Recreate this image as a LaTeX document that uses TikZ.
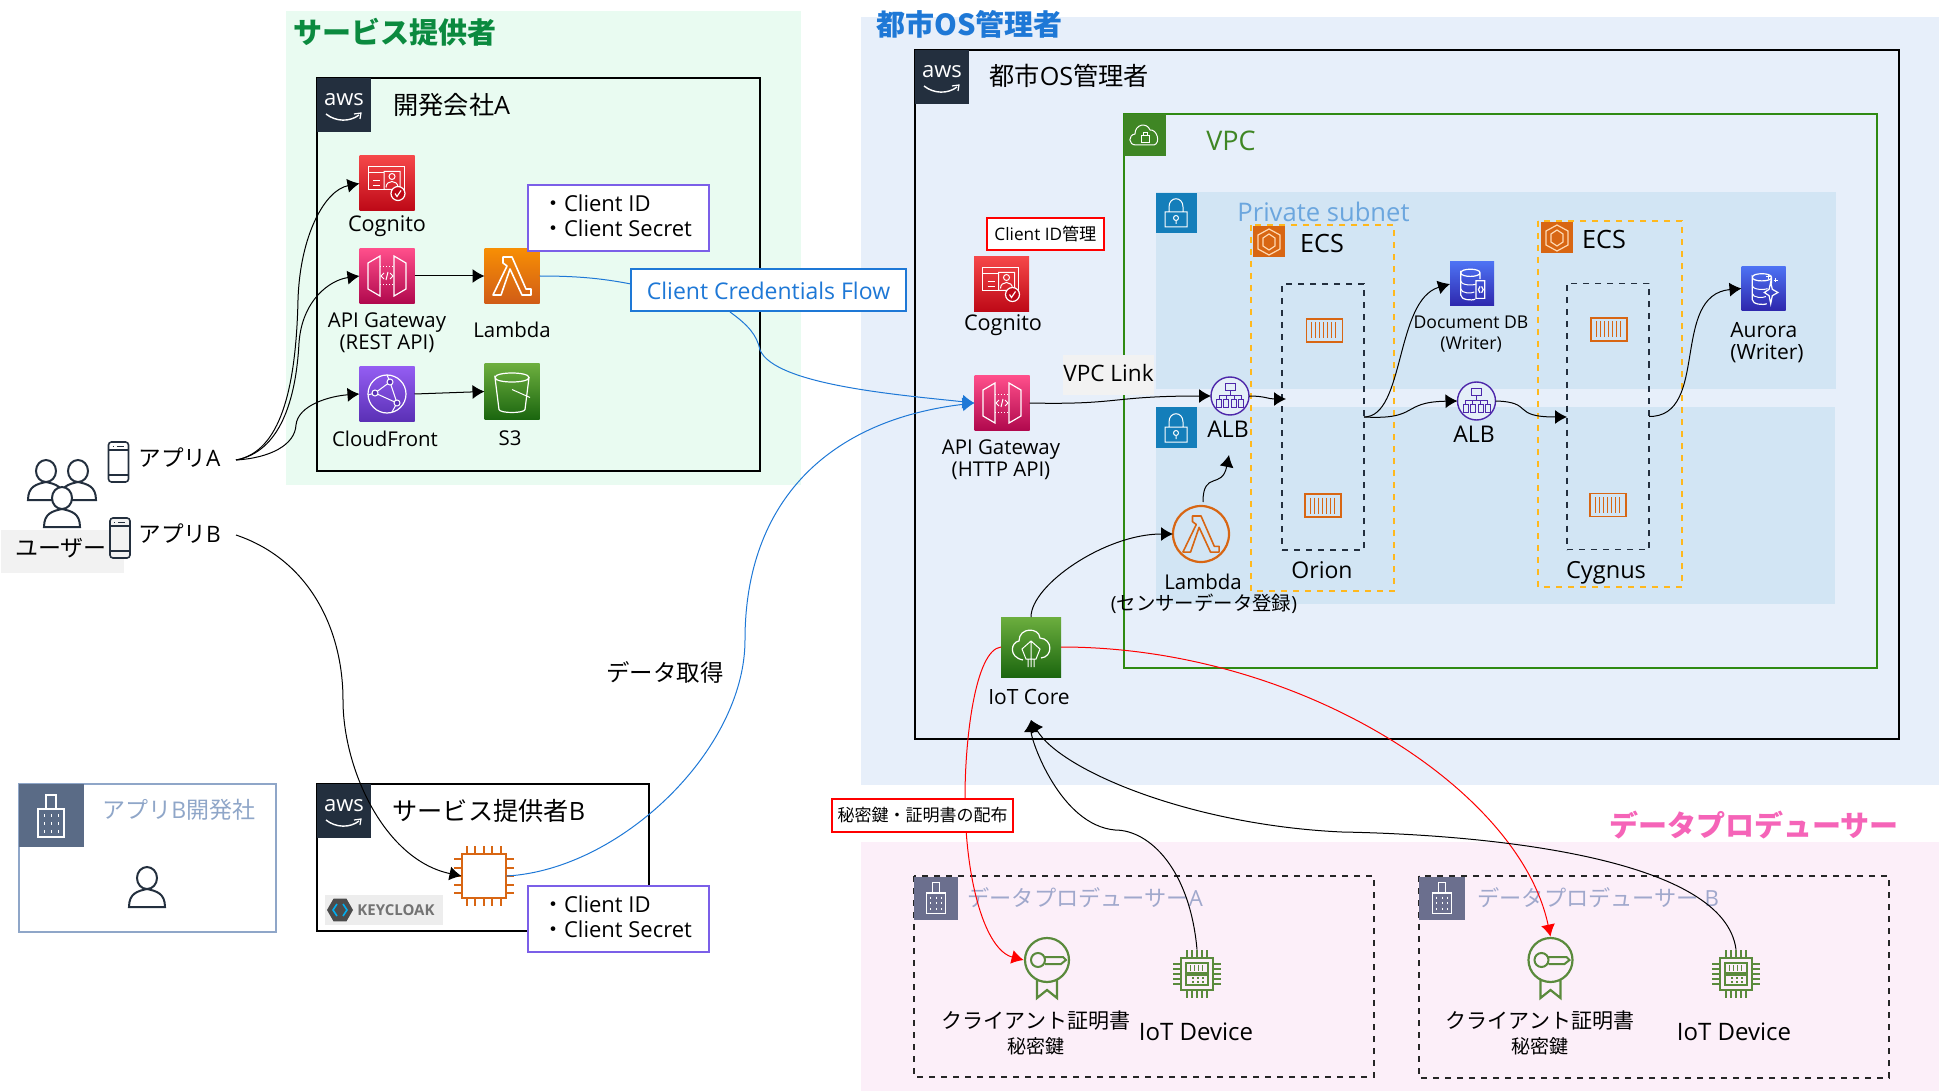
\documentclass[tikz,border=0pt]{standalone}
\usepackage{fontspec}
\setmainfont{Open Sans}
\newfontfamily\cjk{Noto Sans CJK JP}
\usetikzlibrary{arrows.meta,shapes.geometric}
\definecolor{awsdark}{HTML}{232F3E}
\definecolor{svcbg}{HTML}{E9FBF1}
\definecolor{svcgreen}{HTML}{0B8A3F}
\definecolor{citybg}{HTML}{E7EFFA}
\definecolor{cityblue}{HTML}{1E78D6}
\definecolor{vpcgreen}{HTML}{3F8624}
\definecolor{vpcline}{HTML}{2F8A12}
\definecolor{subnetbg}{HTML}{D2E5F4}
\definecolor{subnetblue}{HTML}{147EBA}
\definecolor{subnettext}{HTML}{6BA6DE}
\definecolor{ecsyellow}{HTML}{FFB81C}
\definecolor{ecsorange}{HTML}{D86613}
\definecolor{albpurple}{HTML}{4D27AA}
\definecolor{pinkbg}{HTML}{FCEFF9}
\definecolor{pinktext}{HTML}{F564B8}
\definecolor{corpslate}{HTML}{5A6B86}
\definecolor{corptext}{HTML}{8FA6C8}
\definecolor{prodslate}{HTML}{6B6F8E}
\definecolor{prodtext}{HTML}{A0A8CC}
\definecolor{clientpurple}{HTML}{7B5FE8}
\definecolor{certgreen}{HTML}{5A8A3C}
\definecolor{softgray}{HTML}{F2F2F2}
\definecolor{redtop}{HTML}{F54749}
\definecolor{redlow}{HTML}{BD0816}
\definecolor{pinktop}{HTML}{FF4F8B}
\definecolor{pinklow}{HTML}{B0084D}
\definecolor{orangetop}{HTML}{F78E04}
\definecolor{orangelow}{HTML}{D05C17}
\definecolor{purpletop}{HTML}{945DF2}
\definecolor{purplelow}{HTML}{5A30B5}
\definecolor{greentop}{HTML}{6CAE3E}
\definecolor{greenlow}{HTML}{1B660F}
\definecolor{bluetop}{HTML}{4D72F3}
\definecolor{bluelow}{HTML}{2E27AD}
\tikzset{
  >={Latex[length=6pt,width=7pt]},
  lbl/.style={font=\fontsize{10.2}{11.2}\selectfont,align=center,inner sep=0},
  lblbig/.style={font=\fontsize{12.6}{14}\selectfont,align=center,inner sep=0},
  lblmid/.style={font=\fontsize{11.5}{13}\selectfont,align=center,inner sep=0},
  title/.style={font=\fontsize{14.5}{16}\selectfont\bfseries,inner sep=0},
  conn/.style={->,line width=.5pt,black},
  bluecurve/.style={line width=.5pt,cityblue},
  redcurve/.style={->,line width=.5pt,red},
  iconbox/.style={minimum width=27.5pt,minimum height=27.5pt,inner sep=0,outer sep=0},
  redicon/.style={iconbox,top color=redtop,bottom color=redlow},
  pinkicon/.style={iconbox,top color=pinktop,bottom color=pinklow},
  orangeicon/.style={iconbox,top color=orangetop,bottom color=orangelow},
  purpleicon/.style={iconbox,top color=purpletop,bottom color=purplelow},
  greenicon/.style={iconbox,top color=greentop,bottom color=greenlow},
  blueicon/.style={iconbox,minimum width=22pt,minimum height=22pt,top color=bluetop,bottom color=bluelow},
  tagbox/.style={anchor=north west,inner sep=0,outer sep=0},
  infobox/.style={draw=clientpurple,line width=1pt,fill=white,minimum width=90.5pt,minimum height=33pt,inner sep=0},
  redbox/.style={draw=red,line width=1pt,fill=white,inner sep=0},
  albnode/.style={circle,draw=albpurple,line width=.7pt,fill=white!40!subnetbg,minimum size=19pt,inner sep=0,outer sep=0},
  innerdash/.style={draw=awsdark,dashed,line width=.8pt,minimum width=41pt,minimum height=133pt,inner sep=0,outer sep=0},
  ecsdash/.style={draw=ecsyellow,dashed,line width=1pt},
  proddash/.style={draw=black!85,dashed,line width=.9pt},
  smile/.pic={
    \draw[white,line width=.7pt] (-18,9) .. controls (-8,17) and (6,17) .. (15,10);
    \draw[white,line width=.6pt] (10,9) -- (17,8) -- (16,14);
  },
  cogglyph/.pic={
    \draw[white,line width=.5pt] (-19,-17) rectangle (17,6) (-19,-11) -- (-3,-11) (-14,-3) -- (-7,-3) (-14,2) -- (-7,2);
    \draw[white,line width=.5pt] (-3,-12) rectangle (13,6) (5,-7) circle [radius=3] (-1,4) .. controls (-1,-4) and (11,-4) .. (11,4);
    \draw[white,line width=.6pt,fill=redlow] (11,10) circle [radius=7];
    \draw[white,line width=.6pt] (8,10) -- (10,13) -- (14,7);
  },
  apiglyph/.pic={
    \draw[white,line width=.6pt] (-19,-13) -- (-7,-20) -- (-7,20) -- (-19,13) -- cycle (19,-13) -- (7,-20) -- (7,20) -- (19,13) -- cycle;
    \draw[white,line width=.5pt,densely dotted] (-7,-9) -- (7,-9) (-7,9) -- (7,9);
    \draw[white,line width=.5pt] (-3,-3) -- (-6,0) -- (-3,3) (3,-3) -- (6,0) -- (3,3) (1,-4) -- (-1,4);
  },
  lambdaglyph/.pic={
    \draw[#1,line width=.8pt,line join=round] (-9,-19) -- (0,-19) -- (14,13) -- (19,13) -- (19,19) -- (10,19) -- (-2,-7) -- (-11,19) -- (-19,19) -- (-5,-10) -- (-9,-13) -- cycle;
  },
  cfglyph/.pic={
    \draw[white,line width=.6pt] (0,0) circle [radius=19];
    \draw[white,line width=.5pt] (-12,-1) -- (3,-12) -- (10,9) -- (-12,-1) (0,-19) -- (3,-12) (10,9) -- (5,18) (-12,-1) -- (-19,1);
    \foreach \cx/\cy in {-12/-1,3/-12,10/9} \draw[white,line width=.5pt,fill=purplelow] (\cx,\cy) circle [radius=3];
  },
  sthreeglyph/.pic={
    \draw[white,line width=.6pt] (-17,-14) .. controls (-17,-20) and (17,-20) .. (17,-14) .. controls (17,-8) and (-17,-8) .. (-17,-14) -- (-13,18) .. controls (-12,22) and (12,22) .. (13,18) -- (17,-14);
    \draw[white,line width=.5pt] (0,-2) -- (18,6);
  },
  dbglyph/.pic={
    \draw[white,line width=.6pt] (-14,-14) .. controls (-14,-20) and (10,-20) .. (10,-14) .. controls (10,-8) and (-14,-8) .. (-14,-14) -- (-14,14) .. controls (-14,20) and (0,21) .. (4,19) (10,-14) -- (10,-6);
    \draw[white,line width=.5pt] (-14,-4) .. controls (-14,2) and (2,2) .. (5,0) (-14,6) .. controls (-14,12) and (0,12) .. (3,10);
  },
  docsmall/.pic={\draw[white,line width=.6pt] (5,-4) rectangle (16,18) (10,3) -- (8,7) -- (10,11) (12,3) -- (14,7) -- (12,11);},
  sparksmall/.pic={
    \draw[white,line width=.6pt] (9,-8) -- (11,1) -- (18,5) -- (11,9) -- (9,19) -- (7,9) -- (1,5) -- (7,1) -- cycle;
    \draw[white,line width=.5pt] (6,-18) -- (6,-12) (3,-15) -- (9,-15) (15,-13) -- (15,-8) (12.5,-10.5) -- (17.5,-10.5);
  },
  albglyph/.pic={
    \draw[albpurple,line width=.5pt] (-5,-13) rectangle (5,-6) (0,-6) -- (0,-1) (-11,3) -- (-11,-1) -- (11,-1) -- (11,3) (-4,-1) -- (-4,3) (4,-1) -- (4,3);
    \foreach \cx in {-11,-4,4,11} \draw[albpurple,line width=.5pt] (\cx-2.5,3) rectangle (\cx+2.5,11);
  },
  lockglyph/.pic={
    \draw[white,line width=.5pt] (-11,-1) rectangle (11,14) (-7,-1) -- (-7,-6) .. controls (-7,-17) and (7,-17) .. (7,-6) -- (7,-1) (0,5) circle [radius=2.5] (0,8) -- (0,11);
  },
  cloudglyph/.pic={
    \draw[white,line width=.5pt] (-9,10) .. controls (-17,10) and (-17,0) .. (-10,-1) .. controls (-10,-11) and (2,-13) .. (5,-5) .. controls (12,-6) and (16,8) .. (9,10) -- cycle;
    \draw[white,line width=.5pt] (-4,1) rectangle (4,8) (-2,1) -- (-2,-2) -- (2,-2) -- (2,1);
  },
  ecsglyph/.pic={
    \draw[orange!30,line width=.6pt] (0,-13) -- (11,-7) -- (11,7) -- (0,13) -- (-11,7) -- (-11,-7) -- cycle (0,-8) -- (6,-4) -- (6,4) -- (0,8) -- (-6,4) -- (-6,-4) -- cycle;
  },
  boxstripes/.pic={
    \draw[ecsorange,line width=.7pt] (-18,-11.5) rectangle (18,11.5);
    \foreach \cx in {-13,-9,...,13} \draw[ecsorange,line width=.4pt] (\cx,-8) -- (\cx,8);
  },
  buildingglyph/.pic={
    \draw[white,line width=.6pt] (-13,21) rectangle (13,-7) (-5,-7) -- (-5,-21) -- (5,-21) -- (5,-7);
    \foreach \cx in {-7,0,7} \foreach \cy in {-2,6,14} \draw[white,line width=.5pt] (\cx,\cy) -- ++(0,3);
  },
  phoneglyph/.pic={
    \draw[awsdark,line width=.8pt,rounded corners=1.5pt,fill=#1] (-10,-20) rectangle (10,20) (-10,-12) -- (10,-12) (-10,13) -- (10,13);
    \draw[awsdark,line width=.5pt] (-6,-16) -- (-5,-16) (-2,-16) -- (5,-16);
  },
  personglyph/.pic={
    \draw[awsdark,line width=1pt,fill=#1] (-18,20) .. controls (-18,6) and (-9,4) .. (0,2) .. controls (9,4) and (18,6) .. (18,20) -- cycle;
    \draw[awsdark,line width=1pt,fill=#1] (0,-9) ellipse [x radius=10,y radius=11];
  },
  chipglyph/.pic={
    \draw[ecsorange,line width=1pt,fill=white] (-22,-22) rectangle (22,22);
    \foreach \cx in {-17,-8.5,0,8.5,17} {
      \draw[ecsorange,line width=1pt] (\cx,-22) -- (\cx,-30) (\cx,22) -- (\cx,30) (-22,\cx) -- (-30,\cx) (22,\cx) -- (30,\cx);
    }
  },
  devglyph/.pic={
    \draw[certgreen,line width=.8pt] (-16,-16) rectangle (16,16);
    \draw[certgreen,line width=.6pt] (-11,-11) rectangle (11,-1) (-11,1) rectangle (11,11);
    \foreach \cx in {-10,-5,0,5,10} {
      \draw[certgreen,line width=.8pt] (\cx,-16) -- (\cx,-24) (\cx,16) -- (\cx,24) (-16,\cx) -- (-24,\cx) (16,\cx) -- (24,\cx);
    }
    \foreach \cx in {-7,-3,1,5} \draw[certgreen,line width=.4pt] (\cx,-9) -- (\cx,-3);
    \foreach \cx in {-5,0,5} \draw[certgreen,line width=.8pt] (\cx,4) -- ++(1.5,0) (\cx,8) -- ++(1.5,0);
  },
  certglyph/.pic={
    \draw[certgreen,line width=1.1pt] (0,0) circle [radius=22] (-10,20) -- (-10,38) -- (0,30) -- (10,38) -- (10,20);
    \draw[certgreen,line width=1pt] (-9,0) circle [radius=7] (-2,-3) -- (16,-3) -- (19,0) -- (14,4) -- (-2,4);
  },
  iotglyph/.pic={
    \draw[white,line width=.6pt] (-8,13) .. controls (-23,10) and (-20,-5) .. (-12,-6) .. controls (-12,-20) and (8,-20) .. (9,-9) .. controls (22,-8) and (22,10) .. (10,11);
    \draw[white,line width=.5pt] (0,-6) -- (9,2) -- (5,12) -- (-5,12) -- (-9,2) -- cycle (-3,12) -- (-3,20) (0,-6) -- (0,20) (3,12) -- (3,20);
  }
}
\begin{document}
\begin{tikzpicture}[x=.5pt,y=-.5pt,line cap=butt]
\useasboundingbox (0,0) rectangle (1939,1091);
\fill[svcbg] (286,11) rectangle (801,485);
\fill[citybg] (861,17) rectangle (1939,785);
\fill[pinkbg] (861,842) rectangle (1939,1091);
\fill[softgray] (1,530) rectangle (124,573);

\node[title,text=svcgreen,anchor=west] (titlesvc) at (293,32) {\cjk サービス提供者};
\node[title,text=cityblue,anchor=west] (titlecity) at (876,24) {\cjk 都市OS管理者};
\node[title,text=pinktext,anchor=east] (titleprod) at (1899,825) {\cjk データプロデューサー};

\draw[black,line width=1pt] (317,78) rectangle (760,471);
\draw[black,line width=1pt] (915,50) rectangle (1899,739);
\draw[black,line width=1pt] (317,784) rectangle (649,931);
\foreach \tagx/\tagy/\tagn in {317/78/dev,915/50/city,317/784/svcb} {
  \node[tagbox,fill=awsdark,minimum width=27pt,minimum height=27pt] (tag\tagn) at (\tagx,\tagy) {};
  \node[font=\fontsize{11}{11}\selectfont,text=white,inner sep=0] (aws\tagn) at (\tagx+27,\tagy+22) {aws};
  \pic at (\tagx+27,\tagy+27) {smile};
}
\node[lblbig,anchor=west] (lbldev) at (393,105) {{\cjk 開発会社}A};
\node[lblbig,anchor=west] (lblcity) at (989,76) {{\cjk 都市}OS{\cjk 管理者}};
\node[lblbig,anchor=west] (lblsvcb) at (392,811) {{\cjk サービス提供者}B};

\draw[vpcline,line width=1pt] (1124,114) rectangle (1877,668);
\node[tagbox,fill=vpcgreen,minimum width=21pt,minimum height=21pt] (tagvpc) at (1124,114) {};
\pic at (1145,135) {cloudglyph};
\node[lblbig,font=\fontsize{13.5}{15}\selectfont,text=vpcgreen,anchor=west] (lblvpc) at (1206,141) {VPC};

\fill[subnetbg] (1156,192) rectangle (1836,389);
\fill[subnetbg] (1156,407) rectangle (1835,604);
\node[tagbox,fill=subnetblue,minimum width=20.5pt,minimum height=20pt] (tagsubnetu) at (1156,193) {};
\pic at (1176,213) {lockglyph};
\node[tagbox,fill=subnetblue,minimum width=20.5pt,minimum height=20.5pt] (tagsubnetl) at (1156,407) {};
\pic at (1176,428) {lockglyph};
\node[lblbig,font=\fontsize{12.8}{15}\selectfont,text=subnettext,anchor=west] (lblsubnet) at (1237,212) {Private subnet};

\draw[ecsdash] (1251,225) rectangle (1394,591);
\draw[ecsdash] (1538,221) rectangle (1682,587);
\node[tagbox,fill=ecsorange,minimum width=16pt,minimum height=15.5pt] (tagecsa) at (1253,226) {};
\pic at (1269,242) {ecsglyph};
\node[tagbox,fill=ecsorange,minimum width=16pt,minimum height=15.5pt] (tagecsb) at (1541,222) {};
\pic at (1557,238) {ecsglyph};
\node[lblbig] (lblecsa) at (1322,244) {ECS};
\node[lblbig] (lblecsb) at (1604,240) {ECS};
\node[innerdash] (orion) at (1323,417) {};
\node[innerdash] (cygnus) at (1608,416.5) {};
\pic at (1324.5,330.5) {boxstripes};
\pic at (1323,505.5) {boxstripes};
\pic at (1609,329.5) {boxstripes};
\pic at (1608,505) {boxstripes};
\node[lblmid] (lblorion) at (1322,570) {Orion};
\node[lblmid,font=\fontsize{11.8}{13}\selectfont] (lblcygnus) at (1606,573) {Cygnus};

\node[redicon] (cogdev) at (387,183.5) {};
\pic at (387,183.5) {cogglyph};
\node[lbl,font=\fontsize{10.8}{12}\selectfont] (lblcogdev) at (387,226) {Cognito};
\node[pinkicon] (apirest) at (387,276) {};
\pic at (387,276) {apiglyph};
\node[lbl] (lblapirest) at (387,333) {API Gateway\\(REST API)};
\node[orangeicon] (lamdev) at (512,276) {};
\pic at (512,276) {lambdaglyph=white};
\node[lbl] (lbllamdev) at (512,330) {Lambda};
\node[purpleicon] (cfdev) at (387,394) {};
\pic at (387,394) {cfglyph};
\node[lbl] (lblcfdev) at (385,439) {CloudFront};
\node[greenicon] (sthree) at (512,391.5) {};
\pic at (512,391.5) {sthreeglyph};
\node[lbl] (lblsthree) at (510,438) {S3};

\pic at (46,480) {personglyph=white};
\pic at (78,480) {personglyph=white};
\pic at (62,507) {personglyph=white};
\node[lblmid,font=\fontsize{11.5}{14}\selectfont\cjk] (lbluser) at (61,548) {ユーザー};
\pic at (118.5,462) {phoneglyph=white};
\pic at (120,538) {phoneglyph=softgray};
\node[lblmid,anchor=west,font=\fontsize{11.3}{13}\selectfont] (lblappa) at (138,458) {{\cjk アプリ}A};
\node[lblmid,anchor=west,font=\fontsize{11.3}{13}\selectfont] (lblappb) at (138,534) {{\cjk アプリ}B};
\coordinate (appaout) at (236,460);
\coordinate (appbout) at (236,535);

\draw[corptext,line width=1pt] (19,784) rectangle (276,932);
\node[tagbox,fill=corpslate,minimum width=32.5pt,minimum height=31.5pt] (tagcorp) at (19,784) {};
\pic at (51,816) {buildingglyph};
\node[lblmid,text=corptext,anchor=west] (lblcorp) at (102,810) {{\cjk アプリ}B{\cjk 開発社}};
\pic at (147,887) {personglyph=none};

\node[fill=black!7,minimum width=59pt,minimum height=15pt,inner sep=0] (kcback) at (384,910) {};
\node[regular polygon,regular polygon sides=6,fill=black!70,minimum size=13pt,inner sep=0] (kchex) at (340,910) {};
\draw[cyan,line width=.8pt] (337,904) -- (333,910) -- (337,916) (343,904) -- (347,910) -- (343,916);
\node[font=\fontsize{7.5}{9}\selectfont\bfseries,text=black!55,inner sep=0] (lblkc) at (396,910) {KEYCLOAK};
\node[minimum size=22pt,inner sep=0,outer sep=0] (ecbox) at (483.5,876) {};
\pic at (483.5,876) {chipglyph};

\node[lblmid,font=\fontsize{11.7}{13}\selectfont\cjk] (lbldata) at (665,672) {データ取得};

\node[redicon] (cogcity) at (1001.5,284.5) {};
\pic at (1001.5,284.5) {cogglyph};
\node[lbl,font=\fontsize{10.8}{12}\selectfont] (lblcogcity) at (1003,325) {Cognito};
\node[pinkicon] (apihttp) at (1002,403) {};
\pic at (1002,403) {apiglyph};
\node[lbl] (lblapihttp) at (1001,459.5) {API Gateway\\(HTTP API)};
\node[fill=softgray,minimum width=45.5pt,minimum height=20pt,inner sep=0] (vpclinkbg) at (1108.5,375) {};
\node[lblmid,font=\fontsize{11.3}{13}\selectfont] (lblvpclink) at (1108.5,373) {VPC Link};

\node[albnode] (alba) at (1230,396) {};
\pic at (1230,396) {albglyph};
\node[lblmid] (lblalba) at (1228,429) {ALB};
\node[albnode] (albb) at (1476.5,401) {};
\pic at (1476.5,401) {albglyph};
\node[lblmid] (lblalbb) at (1474,434) {ALB};
\node[blueicon] (docdb) at (1472,284) {};
\pic[scale=.8] at (1472,284) {dbglyph};
\pic[scale=.8] at (1472,284) {docsmall};
\node[lbl,font=\fontsize{8.8}{10.5}\selectfont] (lbldocdb) at (1471,334.5) {Document DB\\(Writer)};
\node[blueicon] (aurora) at (1763.5,288.5) {};
\pic[scale=.8] at (1763.5,288.5) {dbglyph};
\pic[scale=.8] at (1763.5,288.5) {sparksmall};
\node[lbl,font=\fontsize{10.5}{11}\selectfont,align=left] (lblaurora) at (1767,343) {Aurora\\(Writer)};
\node[circle,draw=ecsorange,line width=1.1pt,minimum size=28pt,inner sep=0,outer sep=0] (lamsensor) at (1201,534) {};
\pic[scale=.95] at (1201,534) {lambdaglyph=ecsorange};
\node[lbl] (lbllamsensor) at (1203,582) {Lambda};
\node[lbl,font=\fontsize{9.7}{11}\selectfont] (lblsensor) at (1204,604) {({\cjk センサーデータ登録})};
\coordinate (lamout) at (1229,455);

\node[greenicon,minimum width=30pt,minimum height=30pt] (iotcore) at (1031,647) {};
\pic at (1031,647) {iotglyph};
\node[lbl,font=\fontsize{10.5}{12}\selectfont] (lbliotcore) at (1029,697) {IoT Core};
\coordinate (iotin) at (1031,720);

\draw[proddash] (914,876) rectangle (1374,1077);
\draw[proddash] (1419,876) rectangle (1889,1078);
\node[tagbox,fill=prodslate,minimum width=22pt,minimum height=21.5pt] (tagproda) at (914,877) {};
\pic[scale=.72] at (936,898) {buildingglyph};
\node[tagbox,fill=prodslate,minimum width=23pt,minimum height=21.5pt] (tagprodb) at (1419,877) {};
\pic[scale=.72] at (1442,898) {buildingglyph};
\node[lblmid,text=prodtext,anchor=west,font=\fontsize{11.1}{13}\selectfont] (lblproda) at (967,898) {{\cjk データプロデューサー}A};
\node[lblmid,text=prodtext,anchor=west,font=\fontsize{11.1}{13}\selectfont] (lblprodb) at (1477,898) {{\cjk データプロデューサー} B};

\node[inner sep=0,minimum size=23pt] (certa) at (1047,960) {};
\pic at (1047,960) {certglyph};
\node[inner sep=0,minimum size=23pt] (certb) at (1550.5,960) {};
\pic at (1550.5,960) {certglyph};
\node[inner sep=0,minimum width=24pt,minimum height=24pt] (deva) at (1197,974) {};
\pic at (1197,974) {devglyph};
\node[inner sep=0,minimum width=24pt,minimum height=24pt] (devb) at (1736,974) {};
\pic at (1736,974) {devglyph};
\node[lbl,font=\fontsize{10.5}{12.5}\selectfont\cjk] (lblcerta) at (1036,1033) {クライアント証明書\\\fontsize{9.5}{12.5}\selectfont 秘密鍵};
\node[lbl,font=\fontsize{10.5}{12.5}\selectfont\cjk] (lblcertb) at (1540,1033) {クライアント証明書\\\fontsize{9.5}{12.5}\selectfont 秘密鍵};
\node[lbl,font=\fontsize{12}{13}\selectfont] (lbldeva) at (1196,1032) {IoT Device};
\node[lbl,font=\fontsize{12}{13}\selectfont] (lbldevb) at (1734,1032) {IoT Device};

\node[infobox,align=left,font=\fontsize{11}{12.5}\selectfont] (clientdev) at (618.5,218.5) {\hspace{-1.5pt}{\cjk ・}Client ID\\\hspace{-1.5pt}{\cjk ・}Client Secret\vphantom{gy}};
\node[infobox,align=left,font=\fontsize{11}{12.5}\selectfont] (clientsvcb) at (618.5,919) {\hspace{-1.5pt}{\cjk ・}Client ID\\\hspace{-1.5pt}{\cjk ・}Client Secret\vphantom{gy}};
\node[draw=cityblue,line width=1pt,fill=white,text=cityblue,minimum width=137.5pt,minimum height=21pt,inner sep=0,font=\fontsize{11.5}{13}\selectfont] (ccf) at (768.5,290.5) {Client Credentials Flow};
\coordinate (ccfin) at (631,284);
\coordinate (ccfout) at (730,312);

\draw[conn] (appaout) .. controls (280,452) and (296,390) .. (298,300) .. controls (300,235) and (325,190) .. (cogdev.west);
\draw[conn] (appaout) .. controls (280,452) and (296,400) .. (299,343) .. controls (302,300) and (330,280) .. (apirest.west);
\draw[conn] (appaout) .. controls (270,458) and (295,445) .. (296,425) .. controls (298,405) and (330,396) .. (cfdev.west);
\draw[conn] (apirest.east) -- (lamdev.west);
\draw[conn] (cfdev.east) -- (sthree.west);
\draw[bluecurve] (lamdev.east) .. controls (575,276) and (600,278) .. (ccfin);
\draw[bluecurve,->] (ccfout) .. controls (748,325) and (757,335) .. (760,350) .. controls (775,385) and (900,395) .. (apihttp.west);
\draw[bluecurve,->] (ecbox.east) ++(1,0) .. controls (620,870) and (745,750) .. (745,640) .. controls (745,500) and (830,420) .. (apihttp.west);
\draw[conn] (appbout) .. controls (310,560) and (343,630) .. (343,700) .. controls (343,770) and (385,860) .. (ecbox.west);

\draw[conn] (apihttp.east) .. controls (1120,405) and (1110,396) .. (alba.west);
\coordinate (orionin) at (1286,399);
\coordinate (cygnusin) at (1567,417);
\draw[conn] (alba.east) .. controls (1265,396) and (1268,399) .. (orionin);
\draw[conn] (orion.east) .. controls (1405,417) and (1395,300) .. (docdb.west);
\draw[conn] (orion.east) .. controls (1420,420) and (1400,402) .. (albb.west);
\draw[conn] (albb.east) .. controls (1535,402) and (1510,417) .. (cygnusin);
\draw[conn] (cygnus.east) .. controls (1710,417) and (1670,295) .. (aurora.west);
\draw[conn] (iotcore.north) .. controls (1031,585) and (1105,534) .. (lamsensor.west);
\draw[conn] (1203,502) .. controls (1203,470) and (1222,490) .. (lamout);

\draw[redcurve] (iotcore.west) .. controls (975,650) and (965,740) .. (965,797) .. controls (965,880) and (985,950) .. (certa.west);
\draw[redcurve] (iotcore.east) .. controls (1300,647) and (1520,790) .. (certb.north);
\draw[conn] (deva.north) .. controls (1190,870) and (1150,830) .. (1115,830) .. controls (1060,825) and (1031,740) .. (iotin);
\draw[conn] (devb.north) .. controls (1725,860) and (1500,835) .. (1342,832) .. controls (1190,825) and (1060,770) .. (iotin);

\node[redbox,minimum width=58.5pt,minimum height=16pt,font=\fontsize{8.6}{10}\selectfont] (lblidadmin) at (1045.5,234) {Client ID{\cjk 管理}};
\node[redbox,minimum width=90.5pt,minimum height=16.5pt,font=\fontsize{8.5}{10}\selectfont\cjk] (lbldist) at (922.5,815.5) {秘密鍵・証明書の配布};
\end{tikzpicture}
\end{document}
